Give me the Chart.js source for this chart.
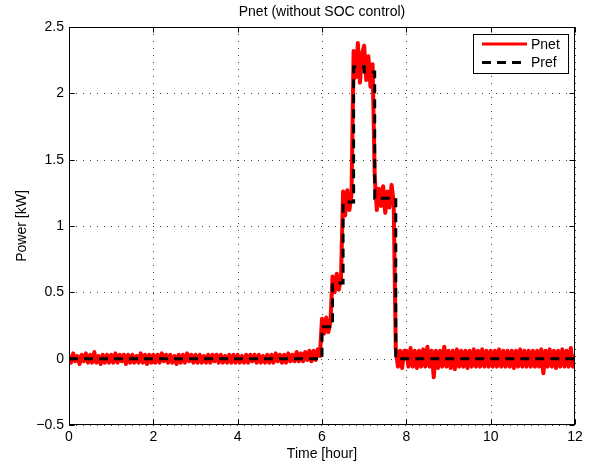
<!DOCTYPE html>
<html>
<head>
<meta charset="utf-8">
<script src="https://cdn.jsdelivr.net/npm/chart.js@4"></script>
<style>
html, body { margin: 0; padding: 0; background: #fff; }
</style>
</head>
<body>
<canvas id="myChart" width="595" height="467"></canvas>
<script>
var sampleStep = 0.05;
var pnet = [
  0.03,-0.03,0.04,-0.02,0.02,-0.04,0.03,-0.02,0.04,-0.03,0.03,-0.03,0.05,-0.03,0.02,-0.04,0.03,-0.03,0.03,-0.03,
  0.03,-0.03,0.04,-0.03,0.03,-0.02,0.03,-0.04,0.03,-0.03,0.03,-0.03,0.02,-0.03,0.04,-0.03,0.03,-0.04,0.03,-0.03,
  0.03,-0.03,0.03,-0.03,0.04,-0.02,0.03,-0.03,0.03,-0.03,0.02,-0.04,0.03,-0.03,0.03,-0.03,0.04,-0.02,0.03,-0.03,
  0.03,-0.03,0.03,-0.03,0.02,-0.03,0.03,-0.03,0.03,-0.02,0.03,-0.03,0.03,-0.03,0.02,-0.03,0.03,-0.03,0.03,-0.03,
  0.03,-0.03,0.02,-0.03,0.03,-0.03,0.03,-0.02,0.03,-0.03,0.03,-0.03,0.02,-0.03,0.03,-0.03,0.03,-0.03,0.04,-0.02,
  0.03,-0.03,0.03,-0.03,0.04,-0.02,0.03,-0.02,0.05,-0.02,0.04,-0.02,0.05,-0.01,0.06,-0.02,0.06,-0.01,0.07,0.02,
  0.30,0.19,0.31,0.20,0.28,
  0.62,0.50,0.64,0.52,0.60,
  1.26,1.08,1.27,1.12,1.24,
  2.32,2.12,2.38,2.08,2.30,
  2.36,2.10,2.28,2.05,2.22,
  1.38,1.12,1.28,1.15,1.30,1.10,1.26,1.14,1.31,1.18,
  0.07,-0.06,0.06,-0.07,0.06,
  0.06,-0.06,0.08,-0.06,0.06,-0.07,0.06,-0.06,0.07,-0.06,0.09,-0.06,0.06,-0.14,0.06,-0.07,0.06,-0.06,0.09,-0.06,
  0.06,-0.07,0.06,-0.08,0.07,-0.06,0.06,-0.06,0.06,-0.07,0.06,-0.06,0.07,-0.06,0.06,-0.06,0.07,-0.06,0.06,-0.06,
  0.06,-0.06,0.06,-0.06,0.07,-0.06,0.06,-0.06,0.06,-0.06,0.06,-0.07,0.06,-0.06,0.07,-0.06,0.06,-0.06,0.06,-0.06,
  0.06,-0.06,0.06,-0.06,0.07,-0.11,0.06,-0.06,0.07,-0.06,0.06,-0.07,0.06,-0.06,0.07,-0.06,0.06,-0.06,0.08,-0.06,
  0.03
];

// Pref step levels (held from each time until the next)
var prefTimes  = [0, 6, 6.25, 6.5, 6.75, 7, 7.25, 7.75, 12];
var prefLevels = [0, 0.24, 0.57, 1.18, 2.2, 2.16, 1.21, 0, 0];

var xTicks = [0, 2, 4, 6, 8, 10, 12];
var yTicks = [-0.5, 0, 0.5, 1, 1.5, 2, 2.5];

var FONT = '"Liberation Sans", Arial, Helvetica, sans-serif';

var pnetPoints = pnet.map(function(v, i) { return {x: i * sampleStep, y: v}; });
var prefPoints = prefTimes.map(function(t, i) { return {x: t, y: prefLevels[i]}; });

// MATLAB look: dotted grid, box with inward ticks, boxed legend, title
var matlabAxes = {
  id: 'matlabAxes',
  beforeDatasetsDraw: function(chart) {
    var ctx = chart.ctx, a = chart.chartArea;
    var xs = chart.scales.x, ys = chart.scales.y;
    ctx.save();
    ctx.strokeStyle = '#444';
    ctx.lineWidth = 1;
    ctx.setLineDash([1, 6]);
    xTicks.forEach(function(v) {
      var px = Math.round(xs.getPixelForValue(v)) + 0.5;
      ctx.beginPath(); ctx.moveTo(px, a.top); ctx.lineTo(px, a.bottom); ctx.stroke();
    });
    yTicks.forEach(function(v) {
      var py = Math.round(ys.getPixelForValue(v)) + 0.5;
      ctx.beginPath(); ctx.moveTo(a.left, py); ctx.lineTo(a.right, py); ctx.stroke();
    });
    ctx.restore();
  },
  afterDatasetsDraw: function(chart) {
    var ctx = chart.ctx, a = chart.chartArea;
    var xs = chart.scales.x, ys = chart.scales.y;
    var L = Math.round(a.left) + 0.5, R = Math.round(a.right) - 0.5;
    var T = Math.round(a.top) + 0.5, B = Math.round(a.bottom) - 0.5;
    ctx.save();
    ctx.strokeStyle = '#000';
    ctx.lineWidth = 1;
    ctx.setLineDash([]);
    ctx.strokeRect(L, T, R - L, B - T);
    // inward ticks
    xTicks.forEach(function(v) {
      var px = Math.round(xs.getPixelForValue(v)) + 0.5;
      ctx.beginPath();
      ctx.moveTo(px, B); ctx.lineTo(px, B - 5);
      ctx.moveTo(px, T); ctx.lineTo(px, T + 5);
      ctx.stroke();
    });
    yTicks.forEach(function(v) {
      var py = Math.round(ys.getPixelForValue(v)) + 0.5;
      ctx.beginPath();
      ctx.moveTo(L, py); ctx.lineTo(L + 5, py);
      ctx.moveTo(R, py); ctx.lineTo(R - 5, py);
      ctx.stroke();
    });

    // title
    ctx.fillStyle = '#000';
    ctx.font = '14px ' + FONT;
    ctx.textAlign = 'center';
    ctx.textBaseline = 'middle';
    ctx.fillText('Pnet (without SOC control)', (a.left + a.right) / 2, 12);

    // legend
    var lx = 473.5, ly = 34.5, lw = 95, lh = 39;
    ctx.fillStyle = '#fff';
    ctx.fillRect(lx, ly, lw, lh);
    ctx.strokeRect(lx, ly, lw, lh);
    var sets = chart.data.datasets;
    var rows = [44, 62.5];
    sets.forEach(function(ds, i) {
      ctx.beginPath();
      ctx.strokeStyle = ds.borderColor;
      ctx.lineWidth = 3;
      ctx.setLineDash(ds.borderDash || []);
      ctx.moveTo(482, rows[i]);
      ctx.lineTo(527, rows[i]);
      ctx.stroke();
      ctx.setLineDash([]);
      ctx.fillStyle = '#000';
      ctx.textAlign = 'left';
      ctx.fillText(ds.label, 531, rows[i] + 1);
    });
    ctx.restore();
  }
};

new Chart('myChart', {
  type: 'line',
  data: {
    datasets: [{
      label: 'Pnet',
      data: pnetPoints,
      borderColor: '#ff0000',
      borderWidth: 4,
      borderJoinStyle: 'round',
      pointRadius: 0,
      order: 1
    }, {
      label: 'Pref',
      data: prefPoints,
      stepped: true,
      borderColor: '#000000',
      borderWidth: 3,
      borderDash: [9, 6],
      pointRadius: 0,
      order: 0
    }]
  },
  options: {
    responsive: false,
    animation: false,
    devicePixelRatio: 1,
    layout: { padding: { top: 27, right: 20, left: 0, bottom: 0 } },
    plugins: {
      legend: { display: false },
      tooltip: { enabled: false },
      title: { display: false }
    },
    scales: {
      x: {
        type: 'linear',
        min: 0, max: 12,
        afterFit: function(scale) { scale.height = 42; },
        afterBuildTicks: function(scale) { scale.ticks = xTicks.map(function(v) { return {value: v}; }); },
        ticks: { color: '#000', font: { size: 14, family: FONT }, padding: 4, maxRotation: 0 },
        grid: { display: false, drawTicks: false },
        border: { display: false },
        title: { display: true, text: 'Time [hour]', color: '#000', font: { size: 14, family: FONT }, padding: { top: 0, bottom: 4 } }
      },
      y: {
        min: -0.5, max: 2.5,
        afterFit: function(scale) { scale.width = 69; },
        afterBuildTicks: function(scale) { scale.ticks = yTicks.map(function(v) { return {value: v}; }); },
        ticks: {
          color: '#000', font: { size: 14, family: FONT }, padding: 5,
          callback: function(v) { return v < 0 ? '\u2212' + Math.abs(v) : String(v); }
        },
        grid: { display: false, drawTicks: false },
        border: { display: false },
        title: { display: true, text: 'Power [kW]', color: '#000', font: { size: 14, family: FONT }, padding: { top: 14, bottom: 0 } }
      }
    }
  },
  plugins: [matlabAxes]
});
</script>
</body>
</html>
